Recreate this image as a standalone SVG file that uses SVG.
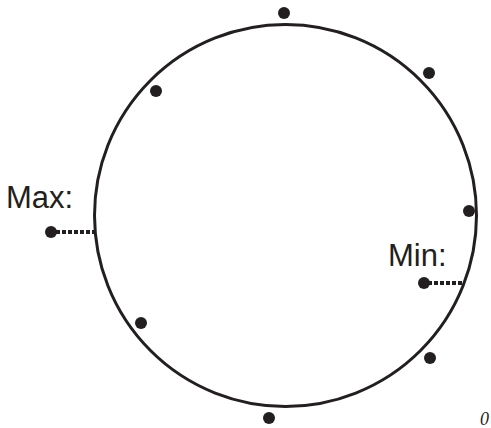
<svg xmlns="http://www.w3.org/2000/svg" width="491" height="428" viewBox="0 0 491 428">
<style>
.dot{fill:#231f20}
.lbl{font-family:"Liberation Sans",Arial,sans-serif;font-size:31px;fill:#231f20}
.dash{stroke:#231f20;stroke-width:4;stroke-dasharray:4 2;fill:none}
</style>
<rect width="491" height="428" fill="#fff"/>
<g id="circle"><circle cx="285.5" cy="215.5" r="191" fill="none" stroke="#231f20" stroke-width="3"/></g>
<g id="connectors">
<line class="dash" x1="56" y1="232" x2="95" y2="232"/>
<line class="dash" x1="428" y1="283" x2="465" y2="283"/>
</g>
<g id="dots">
<circle class="dot" cx="284" cy="13" r="6"/>
<circle class="dot" cx="429" cy="73" r="6"/>
<circle class="dot" cx="156" cy="91" r="6"/>
<circle class="dot" cx="469" cy="211" r="6"/>
<circle class="dot" cx="141" cy="323" r="6"/>
<circle class="dot" cx="430" cy="358" r="6"/>
<circle class="dot" cx="269" cy="418" r="6"/>
</g>
<g id="max"><text class="lbl" x="6" y="208">Max:</text><circle class="dot" cx="51" cy="232" r="6"/></g>
<g id="min"><text class="lbl" x="388" y="266">Min:</text><circle class="dot" cx="424" cy="283" r="6"/></g>
<g id="zero"><text x="480" y="425" font-family="Liberation Serif,serif" font-style="italic" font-size="18" fill="#231f20">0</text></g>
</svg>
